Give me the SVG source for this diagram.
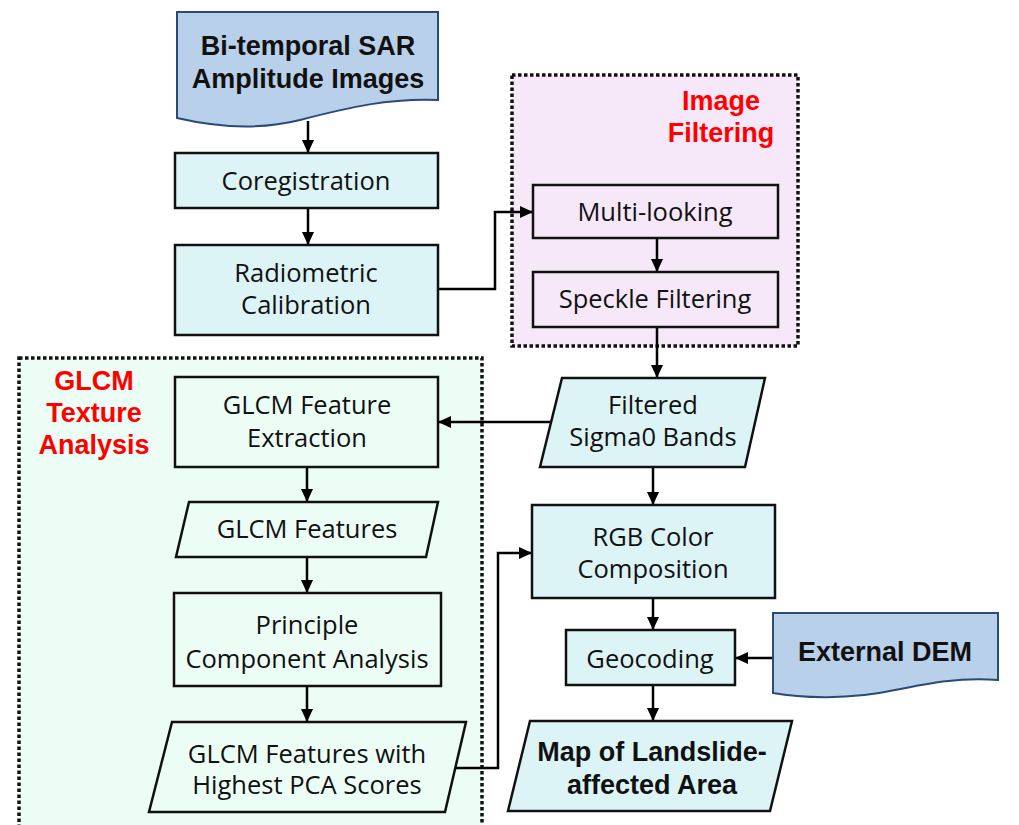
<svg xmlns="http://www.w3.org/2000/svg" width="1019" height="825" viewBox="0 0 1019 825">
<defs>
<marker id="ah" markerWidth="14" markerHeight="14" refX="13" refY="7" orient="auto" markerUnits="userSpaceOnUse">
<path d="M0,1 L13,7 L0,13 Z" fill="#000"/>
</marker>
<style>
.node{fill:#dcf4f6;stroke:#111;stroke-width:2.5}
.plain{fill:#f6e8f8;stroke:#111;stroke-width:2.5}
.mint{fill:#ebfdf5;stroke:#111;stroke-width:2.5}
.doc{fill:#b9d0ea;stroke:#2a4a78;stroke-width:2}
.t{font-family:"Open Sans","Noto Sans","Liberation Sans",sans-serif;font-size:25.5px;fill:#111;text-anchor:middle}
.b{font-family:"Liberation Sans",Arial,sans-serif;font-size:27px;font-weight:bold;fill:#111;text-anchor:middle}
.r{font-family:"Liberation Sans",Arial,sans-serif;font-size:27px;font-weight:bold;fill:#ff0000;text-anchor:middle}
.grp{stroke:#111;stroke-width:3.5;stroke-dasharray:3.5 2.5}
.c{fill:none;stroke:#000;stroke-width:2.5;marker-end:url(#ah)}
</style>
</defs>
<rect width="1019" height="825" fill="#fff"/>
<g id="group-filtering">
<rect x="512" y="75" width="286" height="271" fill="#f6e8f8" class="grp"/>
<text class="r" x="721" y="110">Image</text>
<text class="r" x="721" y="142">Filtering</text>
</g>
<g id="group-glcm">
<rect x="19" y="358" width="463" height="480" fill="#ebfdf5" class="grp"/>
<text class="r" x="94" y="390">GLCM</text>
<text class="r" x="94" y="422">Texture</text>
<text class="r" x="94" y="454">Analysis</text>
</g>
<g id="connectors">
<line class="c" x1="308" y1="121" x2="308" y2="153"/>
<line class="c" x1="308" y1="208" x2="308" y2="245"/>
<polyline class="c" points="438,289 495,289 495,212 533,212"/>
<line class="c" x1="657" y1="238" x2="657" y2="272"/>
<line class="c" x1="657" y1="327" x2="657" y2="378"/>
<line class="c" x1="552" y1="422" x2="438" y2="422"/>
<line class="c" x1="653" y1="467" x2="653" y2="505"/>
<line class="c" x1="307" y1="467" x2="307" y2="502"/>
<line class="c" x1="307" y1="557" x2="307" y2="593"/>
<line class="c" x1="307" y1="686" x2="307" y2="722"/>
<polyline class="c" points="456,768 498,768 498,553 532,553"/>
<line class="c" x1="653" y1="598" x2="653" y2="630"/>
<line class="c" x1="773" y1="658" x2="735" y2="658"/>
<line class="c" x1="653" y1="685" x2="653" y2="721"/>
</g>
<g id="n-bitemporal">
<path class="doc" d="M177,12 H438 V100 C390,98 350,107 300,120 C260,130 220,128 177,118 Z"/>
<text class="b" x="308" y="55">Bi-temporal SAR</text>
<text class="b" x="308" y="88">Amplitude Images</text>
</g>
<g id="n-coreg">
<rect class="node" x="175" y="153" width="263" height="55"/>
<text class="t" x="306" y="190">Coregistration</text>
</g>
<g id="n-radiometric">
<rect class="node" x="175" y="245" width="263" height="90"/>
<text class="t" x="306" y="282">Radiometric</text>
<text class="t" x="306" y="314">Calibration</text>
</g>
<g id="n-multilook">
<rect class="plain" x="533" y="185" width="245" height="53"/>
<text class="t" x="655" y="221">Multi-looking</text>
</g>
<g id="n-speckle">
<rect class="plain" x="533" y="272" width="245" height="55"/>
<text class="t" x="655" y="308">Speckle Filtering</text>
</g>
<g id="n-sigma0">
<polygon class="node" points="562,378 765,378 745,467 540,467"/>
<text class="t" x="653" y="414">Filtered</text>
<text class="t" x="653" y="446">Sigma0 Bands</text>
</g>
<g id="n-glcmextract">
<rect class="mint" x="175" y="377" width="263" height="90"/>
<text class="t" x="307" y="414">GLCM Feature</text>
<text class="t" x="307" y="447">Extraction</text>
</g>
<g id="n-glcmfeatures">
<polygon class="mint" points="189,502 438,502 426,557 176,557"/>
<text class="t" x="307" y="538">GLCM Features</text>
</g>
<g id="n-pca">
<rect class="mint" x="174" y="593" width="267" height="93"/>
<text class="t" x="307" y="634">Principle</text>
<text class="t" x="307" y="668">Component Analysis</text>
</g>
<g id="n-highest">
<polygon class="mint" points="172,722 466,722 445,812 149,812"/>
<text class="t" x="307" y="763">GLCM Features with</text>
<text class="t" x="307" y="794">Highest PCA Scores</text>
</g>
<g id="n-rgb">
<rect class="node" x="532" y="505" width="243" height="93"/>
<text class="t" x="653" y="546">RGB Color</text>
<text class="t" x="653" y="578">Composition</text>
</g>
<g id="n-geocoding">
<rect class="node" x="566" y="630" width="169" height="55"/>
<text class="t" x="650" y="668">Geocoding</text>
</g>
<g id="n-dem">
<path class="doc" d="M773,613 H998 V680 C960,677 930,683 895,690 C850,700 800,698 773,693 Z"/>
<text class="b" x="885" y="661">External DEM</text>
</g>
<g id="n-map">
<polygon class="node" points="530,721 792,721 770,811 508,811"/>
<text class="b" x="652" y="761">Map of Landslide-</text>
<text class="b" x="652" y="794">affected Area</text>
</g>
</svg>
